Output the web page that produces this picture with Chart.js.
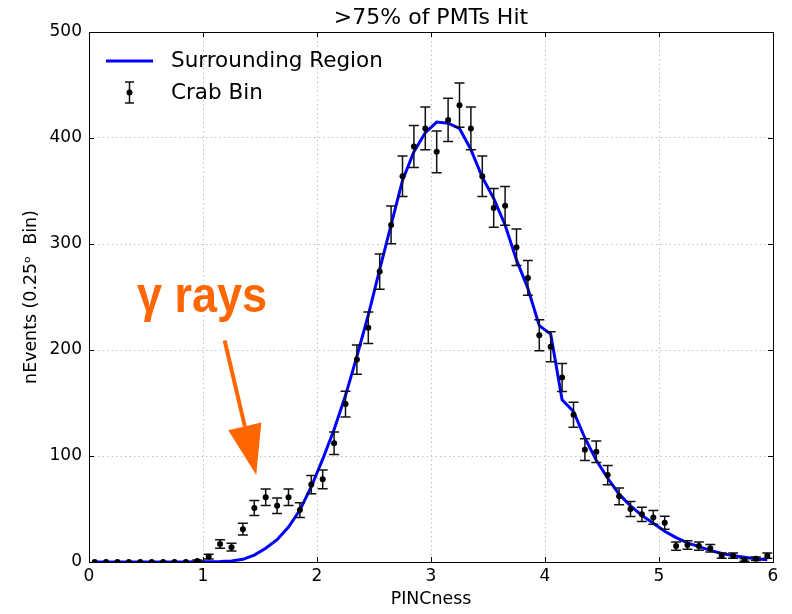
<!DOCTYPE html>
<html>
<head>
<meta charset="utf-8">
<script src="https://cdn.jsdelivr.net/npm/chart.js@4.4.0/dist/chart.umd.min.js"></script>
<style>
  html, body { margin:0; padding:0; background:#fff; }
  #wrap { width:792px; height:614px; }
</style>
</head>
<body>
<div id="wrap"><canvas id="pinc" width="792" height="614"></canvas></div>
<script>
/* ------------------ Data ------------------ */
const binCenters = [
  0.05,0.15,0.25,0.35,0.45,0.55,0.65,0.75,0.85,0.95,
  1.05,1.15,1.25,1.35,1.45,1.55,1.65,1.75,1.85,1.95,
  2.05,2.15,2.25,2.35,2.45,2.55,2.65,2.75,2.85,2.95,
  3.05,3.15,3.25,3.35,3.45,3.55,3.65,3.75,3.85,3.95,
  4.05,4.15,4.25,4.35,4.45,4.55,4.65,4.75,4.85,4.95,
  5.05,5.15,5.25,5.35,5.45,5.55,5.65,5.75,5.85,5.95
];
const crabCounts = [
  0,0,0,0,0,0,0,0,0,1,
  5,17,14,31,51,61,53,61,49,73,
  78,112,149,191,221,274,318,364,392,409,
  387,417,431,409,364,334,336,297,268,214,
  203,174,139,106,104,82,62,50,45,42,
  37,15,16,15,13,6,6,2,3,6
];
const crabErrors = [
  0,0,0,0,0,0,0,0,0,1.0,
  2.2,4.1,3.7,5.6,7.1,7.8,7.3,7.8,7.0,8.5,
  8.8,10.6,12.2,13.8,14.9,16.6,17.8,19.1,19.8,20.2,
  19.7,20.4,20.8,20.2,19.1,18.3,18.3,17.2,16.4,14.6,
  14.2,13.2,11.8,10.3,10.2,9.1,7.9,7.1,6.7,6.5,
  6.1,3.9,4.0,3.9,3.6,2.4,2.4,1.4,1.7,2.4
];
const surroundCounts = [
  0,0,0,0,0,0,0,0,0,0.2,
  0.3,0.5,1,2.5,6.5,13,21,33,49,71,
  97,125,157,194,233,276,318,360,387,405,
  415,414,409,389,363,343,318,285,258,223,
  215,153,142,117,96,79,64,53,44,36.5,
  29,23,18,14.5,11,8,6,4.4,3,2
];
const xTicks = [0,1,2,3,4,5,6];
const yTicks = [0,100,200,300,400,500];

// annotation, in data units
const gammaLabel = { text: "\u03b3 rays", x: 0.42, y: 236 };
const arrowFrom = { x: 1.19, y: 209 };
const arrowTo = { x: 1.467, y: 82 };

const TITLE = ">75% of PMTs Hit";
const FONT = "'DejaVu Sans', sans-serif";
const ORANGE = "#ff6600";

/* ------------------ Error bars (drawn under the dots) ------------------ */
const errorBars = {
  id: 'errorBars',
  beforeDatasetDraw(chart, args) {
    if (args.index !== 1) return;
    const {ctx, scales:{x, y}} = chart;
    ctx.save();
    ctx.strokeStyle = "#111";
    ctx.lineWidth = 1.5;
    binCenters.forEach((c, i) => {
      const e = crabErrors[i];
      if (!e) return;
      const px = x.getPixelForValue(c);
      const top = y.getPixelForValue(crabCounts[i] + e);
      const bot = y.getPixelForValue(crabCounts[i] - e);
      ctx.beginPath();
      ctx.moveTo(px, top); ctx.lineTo(px, bot);
      ctx.moveTo(px-5, top); ctx.lineTo(px+5, top);
      ctx.moveTo(px-5, bot); ctx.lineTo(px+5, bot);
      ctx.stroke();
    });
    ctx.restore();
  }
};

/* ------------------ Title, frame, inward ticks, legend, annotation ------------------ */
const decorations = {
  id: 'decorations',
  afterDraw(chart) {
    const {ctx, chartArea:a, scales:{x, y}} = chart;
    ctx.save();

    // title centred over the plot area
    ctx.fillStyle = "#000";
    ctx.font = "22px " + FONT;
    ctx.textAlign = "center";
    ctx.textBaseline = "middle";
    ctx.fillText(TITLE, (a.left + a.right) / 2, 18);

    // gamma-ray annotation
    ctx.fillStyle = ORANGE;
    ctx.strokeStyle = ORANGE;
    ctx.save();
    ctx.translate(x.getPixelForValue(gammaLabel.x), y.getPixelForValue(gammaLabel.y));
    ctx.scale(0.9, 1);
    ctx.font = "bold 50px 'Liberation Sans', Arial, sans-serif";
    ctx.textAlign = "left";
    ctx.textBaseline = "alphabetic";
    ctx.fillText(gammaLabel.text, 0, 0);
    ctx.restore();

    const x0 = x.getPixelForValue(arrowFrom.x), y0 = y.getPixelForValue(arrowFrom.y);
    const x1 = x.getPixelForValue(arrowTo.x), y1 = y.getPixelForValue(arrowTo.y);
    const len = Math.hypot(x1-x0, y1-y0);
    const ux = (x1-x0)/len, uy = (y1-y0)/len;
    const headLen = 50, headHalf = 17;
    const bx = x1 - ux*headLen, by = y1 - uy*headLen;
    ctx.lineWidth = 4;
    ctx.beginPath(); ctx.moveTo(x0, y0); ctx.lineTo(bx, by); ctx.stroke();
    ctx.beginPath();
    ctx.moveTo(x1, y1);
    ctx.lineTo(bx - uy*headHalf, by + ux*headHalf);
    ctx.lineTo(bx + uy*headHalf, by - ux*headHalf);
    ctx.closePath(); ctx.fill();

    // frame
    ctx.strokeStyle = "#000";
    ctx.lineWidth = 1;
    ctx.strokeRect(a.left + 0.5, a.top + 0.5, a.right - a.left, a.bottom - a.top);

    // inward ticks on all four sides
    ctx.beginPath();
    xTicks.forEach(v => {
      const px = Math.round(x.getPixelForValue(v)) + 0.5;
      ctx.moveTo(px, a.bottom); ctx.lineTo(px, a.bottom - 5);
      ctx.moveTo(px, a.top); ctx.lineTo(px, a.top + 5);
    });
    yTicks.forEach(v => {
      const py = Math.round(y.getPixelForValue(v)) + 0.5;
      ctx.moveTo(a.left, py); ctx.lineTo(a.left + 5, py);
      ctx.moveTo(a.right, py); ctx.lineTo(a.right - 5, py);
    });
    ctx.stroke();

    // legend
    ctx.strokeStyle = "#0000ff";
    ctx.lineWidth = 3;
    ctx.beginPath(); ctx.moveTo(106, 61); ctx.lineTo(153, 61); ctx.stroke();
    ctx.strokeStyle = "#111";
    ctx.lineWidth = 1.5;
    ctx.beginPath();
    ctx.moveTo(129.5, 82); ctx.lineTo(129.5, 103);
    ctx.moveTo(125, 82); ctx.lineTo(134, 82);
    ctx.moveTo(125, 103); ctx.lineTo(134, 103);
    ctx.stroke();
    ctx.fillStyle = "#000";
    ctx.beginPath(); ctx.arc(129.5, 92.5, 3, 0, 2*Math.PI); ctx.fill();
    ctx.font = "21.5px " + FONT;
    ctx.textAlign = "left";
    ctx.textBaseline = "middle";
    ctx.fillText("Surrounding Region", 171, 61);
    ctx.fillText("Crab Bin", 171, 93);

    ctx.restore();
  }
};

/* ------------------ Chart ------------------ */
const ctx = document.getElementById('pinc').getContext('2d');
const pincChart = new Chart(ctx, {
  type: 'scatter',
  data: {
    datasets: [
      { label: "Surrounding Region", showLine: true,
        data: binCenters.map((c, i) => ({ x: c, y: surroundCounts[i] })),
        borderColor: "#0000ff", backgroundColor: "#0000ff", borderWidth: 3,
        pointRadius: 0, tension: 0, order: 2 },
      { label: "Crab Bin",
        data: binCenters.map((c, i) => ({ x: c, y: crabCounts[i] })),
        borderColor: "#000", backgroundColor: "#000", pointRadius: 3,
        pointBorderWidth: 0, clip: 0, order: 1 }
    ]
  },
  options: {
    responsive: false,
    animation: false,
    devicePixelRatio: 1,
    layout: { padding: { left: 0, right: 19, top: 32, bottom: 0 } },
    plugins: {
      legend: { display: false },
      tooltip: { enabled: false },
      title: { display: false }
    },
    scales: {
      x: {
        type: 'linear', min: 0, max: 6,
        afterBuildTicks: s => { s.ticks = xTicks.map(v => ({ value: v })); },
        afterFit: s => { s.height = 52; },
        ticks: { color: "#000", font: { family: FONT, size: 17 }, padding: 4 },
        grid: { color: "#c0c0c0", lineWidth: 1, drawTicks: false },
        border: { display: false, dash: [1.5, 3] },
        title: { display: true, text: "PINCness", color: "#000",
                 font: { family: FONT, size: 17.4 }, padding: { top: 0, bottom: 3.6 } }
      },
      y: {
        type: 'linear', min: 0, max: 500,
        afterBuildTicks: s => { s.ticks = yTicks.map(v => ({ value: v })); },
        afterFit: s => { s.width = 89; },
        ticks: { color: "#000", font: { family: FONT, size: 17 }, padding: 7 },
        grid: { color: "#c0c0c0", lineWidth: 1, drawTicks: false },
        border: { display: false, dash: [1.5, 3] },
        title: { display: true, text: "nEvents (0.25\u1d52  Bin)", color: "#000",
                 font: { family: FONT, size: 17.4 }, padding: { top: 20.6, bottom: 0 } }
      }
    }
  },
  plugins: [errorBars, decorations]
});
</script>
</body>
</html>
